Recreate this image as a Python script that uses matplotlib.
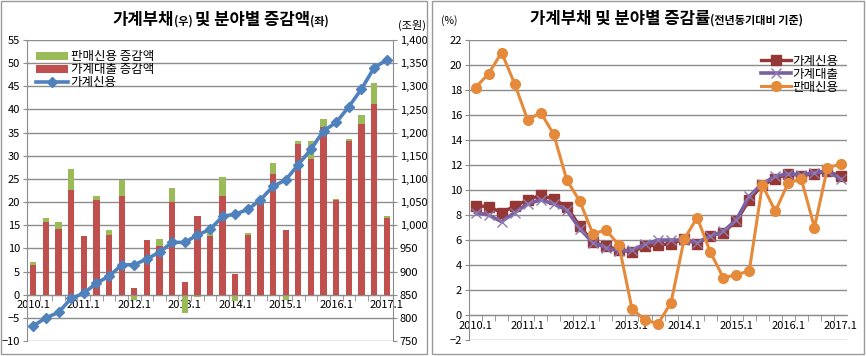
import numpy as np
import matplotlib
matplotlib.use("Agg")
import matplotlib.pyplot as plt
from matplotlib.patches import Rectangle

plt.rcParams['font.family'] = ['Noto Sans CJK KR', 'DejaVu Sans']

# 분기 (2010.1 ~ 2017.1)
quarters = [f"{y}.{q}" for y in range(2010, 2018) for q in range(1, 5)][:29]
tick_labels = ["2010.1", "2011.1", "2012.1", "2013.1", "2014.1", "2015.1", "2016.1", "2017.1"]

# 왼쪽: 증감액 (조원)
loan_chg = [6.4, 15.8, 14.1, 22.7, 12.6, 20.4, 12.8, 21.4, 1.4, 11.9,
            10.6, 20.0, 2.8, 17.1, 12.6, 21.4, 4.5, 13.0, 19.8, 26.0,
            14.0, 32.5, 29.2, 36.2, 20.4, 33.1, 36.8, 41.2, 16.6]
sales_chg = [0.7, 0.8, 1.7, 4.4, 0.0, 1.0, 1.1, 3.3, -1.2, -0.2,
             1.5, 3.0, -4.0, -0.6, 1.0, 4.0, -1.4, 0.3, -0.2, 2.5,
             -1.2, 0.6, 3.9, 1.8, 0.2, 0.6, 2.0, 4.6, 0.3]
credit = [783, 800, 812, 842, 853, 875, 890, 914, 915, 927,
          942, 963, 963, 979, 991, 1019, 1024, 1034, 1055, 1084,
          1098, 1131, 1164, 1204, 1222, 1256, 1294, 1340, 1357]

# 오른쪽: 증감률 (%)
credit_rate = [8.75, 8.67, 8.2, 8.7, 9.2, 9.6, 9.25, 8.67, 7.1, 5.85,
               5.5, 5.2, 5.07, 5.5, 5.6, 5.7, 6.1, 5.7, 6.35, 6.6,
               7.5, 9.2, 10.4, 10.9, 11.3, 11.15, 11.3, 11.5, 11.1]
loan_rate = [8.2, 8.0, 7.47, 8.2, 8.9, 9.2, 8.9, 8.4, 6.9, 5.8,
             5.4, 5.1, 5.2, 5.65, 6.0, 6.0, 6.0, 5.8, 6.3, 6.7,
             7.6, 9.5, 10.5, 11.1, 11.3, 11.2, 11.4, 11.5, 10.9]
sales_rate = [18.2, 19.3, 21.0, 18.5, 15.6, 16.2, 14.45, 10.8, 9.1, 6.5,
              6.8, 5.6, 0.5, -0.4, -0.7, 1.0, 6.05, 7.8, 5.07, 3.0,
              3.2, 3.55, 10.4, 8.3, 10.6, 10.85, 7.0, 11.8, 12.05]

x = np.arange(len(quarters))
grid_c = '#8c8c8c'

fig = plt.figure(figsize=(8.66, 3.56), dpi=100)
renderer = fig.canvas.get_renderer()

# 패널 테두리
fig.patches.append(Rectangle((0.001, 0.006), 0.492, 0.992, transform=fig.transFigure,
                             fill=False, edgecolor='#9a9a9a', linewidth=1))
fig.patches.append(Rectangle((0.499, 0.006), 0.499, 0.992, transform=fig.transFigure,
                             fill=False, edgecolor='#9a9a9a', linewidth=1))


def rich_title(x0_px, y_px, pieces):
    """큰 글씨/작은 글씨 조각을 이어서 그리기 (픽셀 좌표)"""
    xp = x0_px
    for txt, size in pieces:
        t = fig.text(xp / 866, 1 - y_px / 356, txt, fontsize=size, fontweight='bold',
                     ha='left', va='baseline')
        xp += t.get_window_extent(renderer).width


def style_cat_axis(ax):
    ax.set_xlim(-0.5, len(quarters) - 0.5)
    ax.spines['top'].set_visible(False)
    ax.spines['right'].set_visible(False)
    ax.spines['bottom'].set_position(('data', 0))
    ax.spines['bottom'].set_color(grid_c)
    ax.spines['left'].set_color(grid_c)
    ax.set_xticks(x[::4])
    ax.set_xticklabels(tick_labels, fontsize=8)
    ax.tick_params(axis='x', length=0, pad=4)
    ax.set_xticks(np.arange(0.5, len(quarters) - 0.5, 1), minor=True)
    ax.tick_params(axis='x', which='minor', length=4, direction='out', color=grid_c)
    ax.tick_params(axis='y', length=3, color=grid_c, labelsize=8, direction='out', pad=2)
    ax.yaxis.grid(True, color=grid_c, linewidth=1)
    ax.set_axisbelow(True)


# ---- 왼쪽 차트 ----
ax1 = fig.add_axes([0.0312, 0.0421, 0.4226, 0.8455])
style_cat_axis(ax1)
ax1.set_ylim(-10, 55)
ax1.set_yticks(range(-10, 56, 5))

loan = np.array(loan_chg)
sales = np.array(sales_chg)
ax1.bar(x, loan, width=0.5, color='#C0504D', label='가계대출 증감액', zorder=2)
ax1.bar(x, sales, width=0.5, bottom=np.where(sales > 0, loan, 0), color='#9BBB59',
        label='판매신용 증감액', zorder=2)

ax1r = ax1.twinx()
ax1r.set_ylim(750, 1400)
ax1r.set_yticks(range(750, 1401, 50))
ax1r.set_yticklabels([f"{v:,}" for v in range(750, 1401, 50)], fontsize=8)
for s in ['top', 'left', 'bottom']:
    ax1r.spines[s].set_visible(False)
ax1r.spines['right'].set_color(grid_c)
ax1r.tick_params(axis='y', length=3, color=grid_c, pad=2)
ax1r.plot(x, credit, color='#4F81BD', linewidth=2.6, marker='D', markersize=5,
          markeredgecolor='#4F81BD', label='가계신용', zorder=3)

h1, l1 = ax1.get_legend_handles_labels()
h2, l2 = ax1r.get_legend_handles_labels()
ax1r.legend([h1[1], h1[0], h2[0]], [l1[1], l1[0], l2[0]], loc='upper left',
            bbox_to_anchor=(0.0, 0.995), frameon=False, fontsize=9,
            handlelength=2.6, handletextpad=0.2, labelspacing=0.0, borderaxespad=0.3)

rich_title(112, 25, [('가계부채', 12), ('(우) ', 8), ('및 분야별 증감액', 12), ('(좌)', 8)])
fig.text(412 / 866, 1 - 25 / 356, '(조원)', fontsize=8, ha='center', va='center')

# ---- 오른쪽 차트 ----
ax2 = fig.add_axes([0.5416, 0.0449, 0.4365, 0.8427])
style_cat_axis(ax2)
ax2.set_ylim(-2, 22)
ax2.set_yticks(range(-2, 23, 2))

ax2.plot(x, credit_rate, color='#953735', linewidth=2.4, marker='s', markersize=7,
         label='가계신용', zorder=3)
ax2.plot(x, loan_rate, color='#7B5FA0', linewidth=2.6, marker='x', markersize=7,
         markeredgecolor='#8f7ab0', label='가계대출', zorder=4)
ax2.plot(x, sales_rate, color='#E48A3A', linewidth=2.2, marker='o', markersize=7,
         label='판매신용', zorder=5)
ax2.legend(loc='upper right', bbox_to_anchor=(1.0, 0.98), frameon=False, fontsize=9,
           handlelength=2.4, handletextpad=0.1, labelspacing=0.0, borderaxespad=0.3)

rich_title(530, 24, [('가계부채 및 분야별 증감률', 12), ('(전년동기대비 기준)', 8)])
fig.text(449 / 866, 1 - 21 / 356, '(%)', fontsize=7.5, ha='center', va='center')

fig.savefig('out.png', dpi=100)
